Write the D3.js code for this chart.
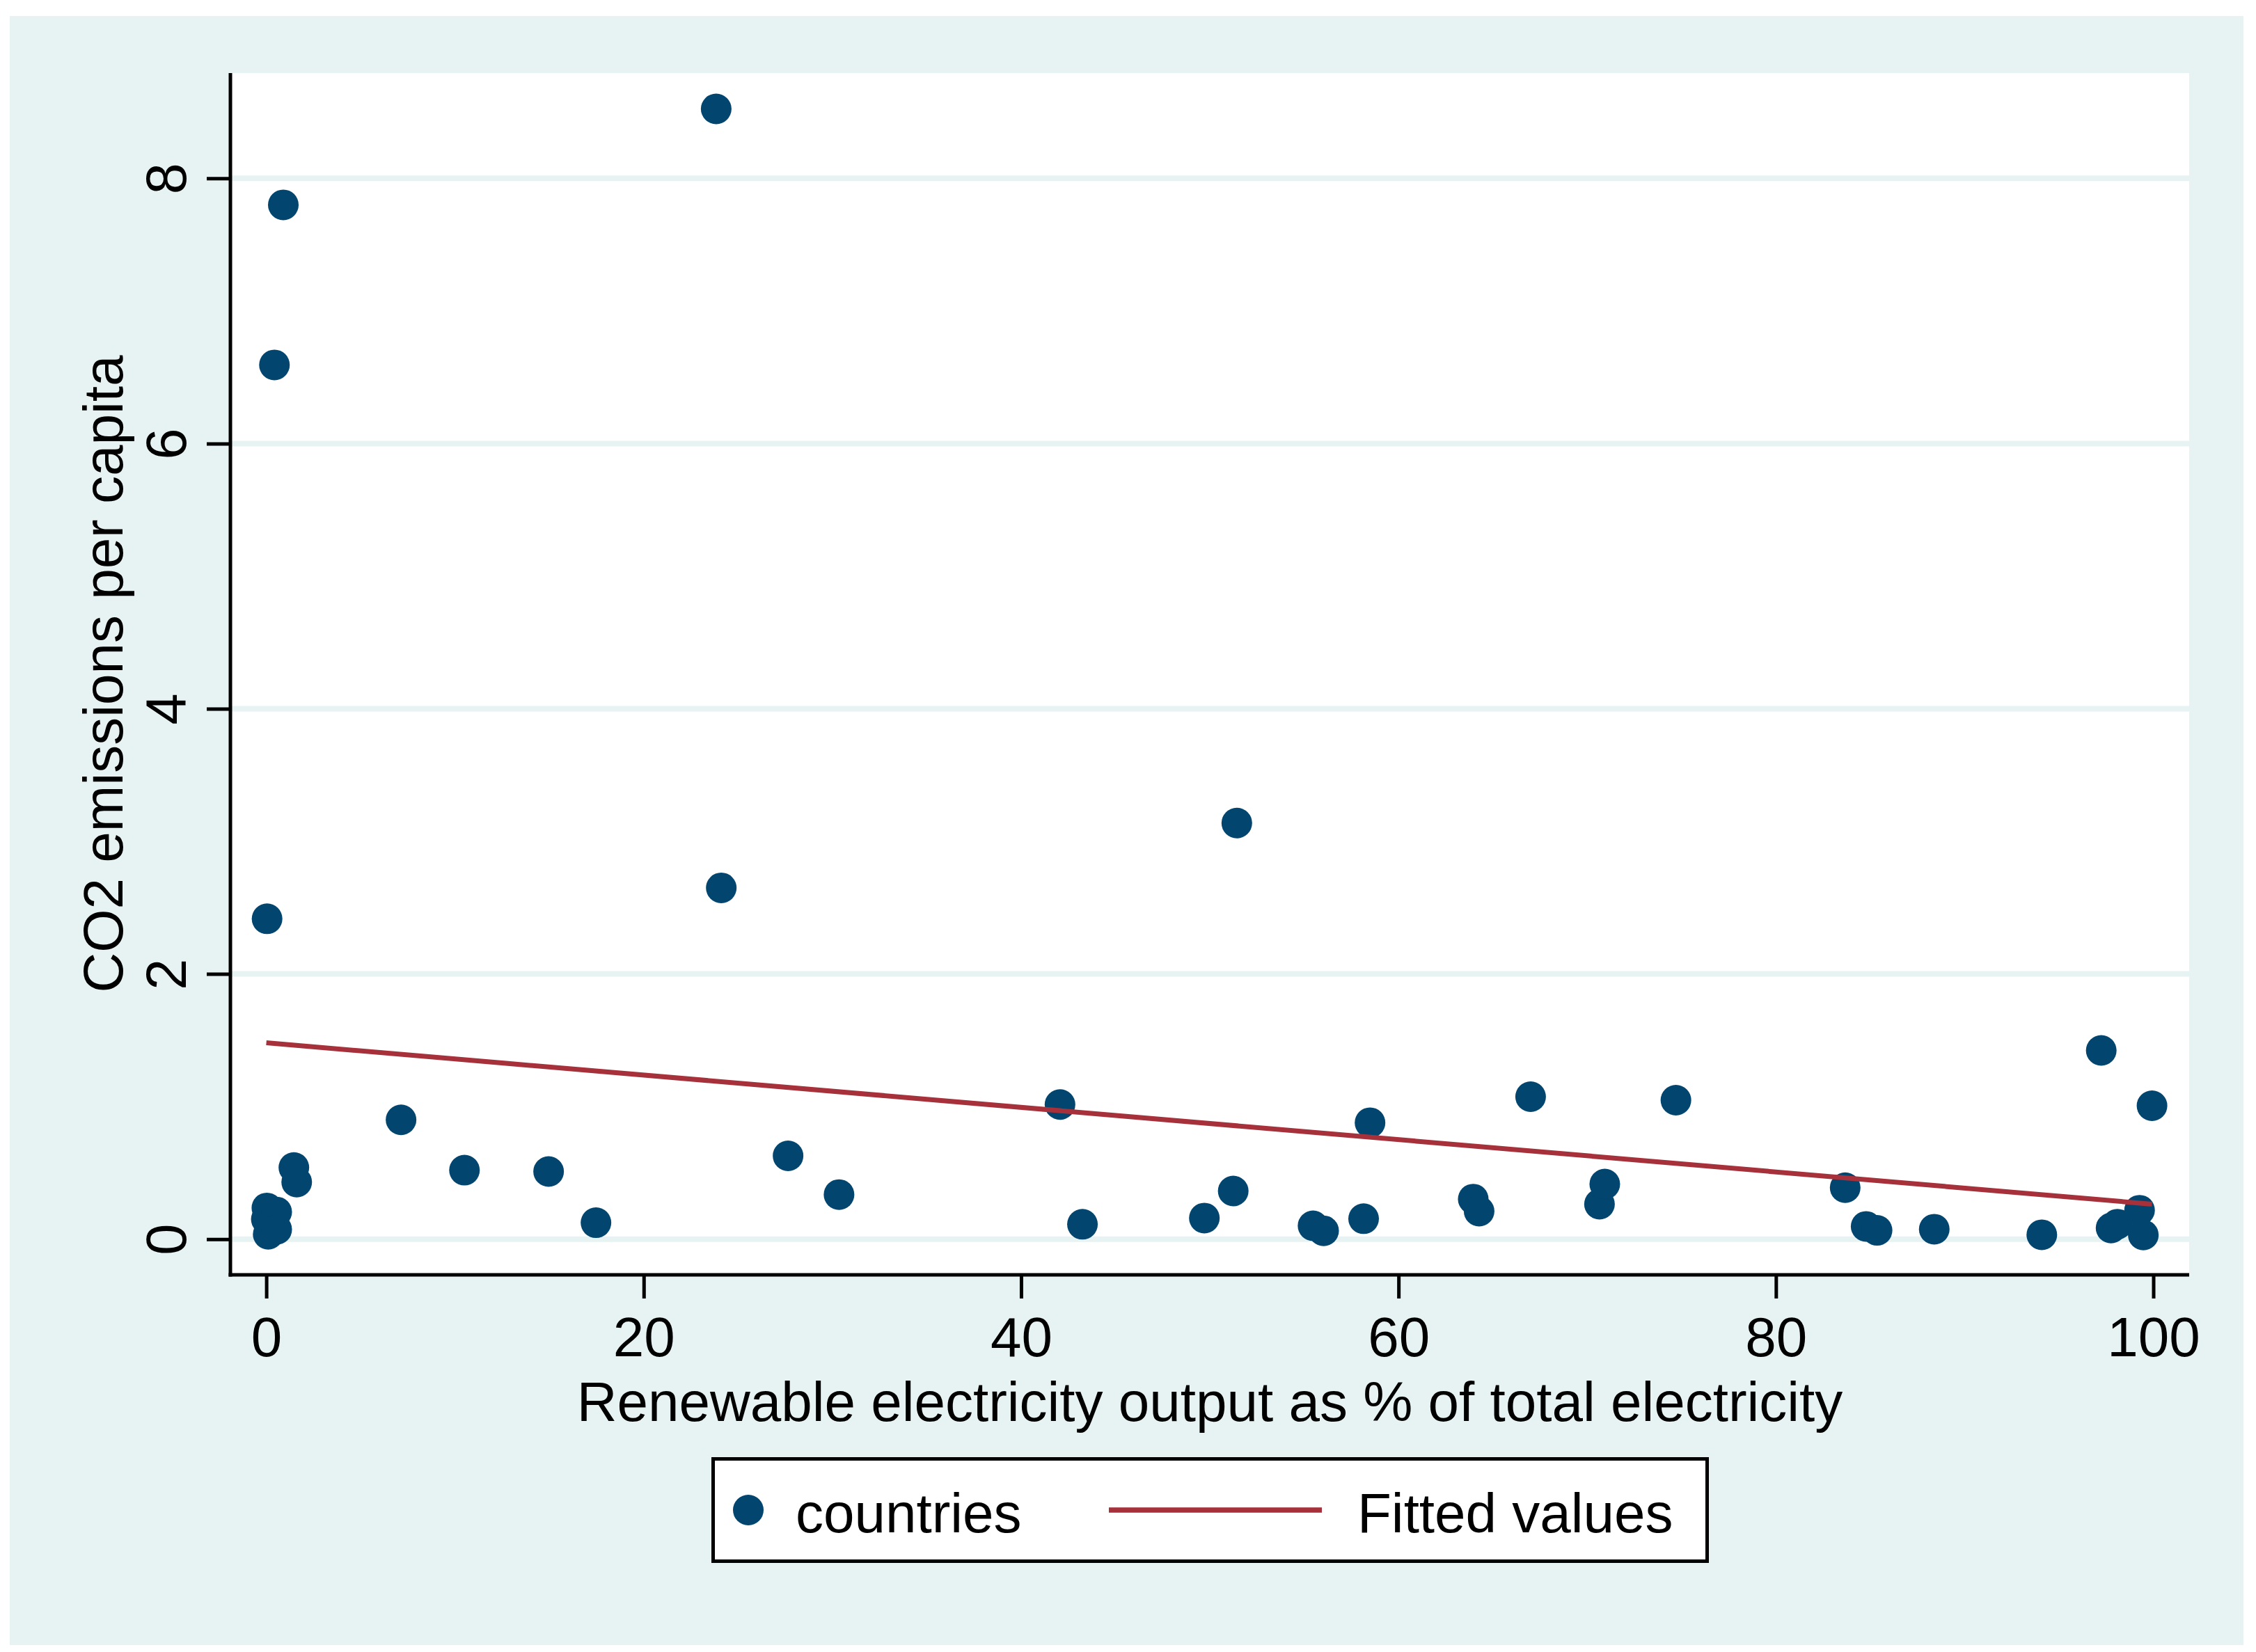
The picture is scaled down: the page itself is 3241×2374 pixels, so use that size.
<!DOCTYPE html>
<html>
<head>
<meta charset="utf-8">
<script src="https://cdn.jsdelivr.net/npm/d3@7"></script>
<style>
  body { margin: 0; background: #fff; }
  text { font-family: "Liberation Sans", Arial, sans-serif; fill: #000; }
</style>
</head>
<body>
<div id="vis"></div>
<script>
// data
const renewable = [0.03, 0.00, 0.10, 0.55, 0.55, 0.43, 0.90, 0.04, 1.46, 1.61,
    7.14, 10.50, 14.96, 17.47, 23.84, 24.11, 27.65, 30.35, 42.06, 43.25,
    49.71, 51.24, 51.43, 55.47, 56.03, 58.15, 58.49, 63.96, 64.27, 67.00,
    70.65, 70.93, 74.70, 83.67, 84.78, 85.36, 88.39, 94.09, 97.24, 97.76,
    98.10, 99.27, 99.47, 99.93];
const co2 = [0.235, 0.15, 0.037, 0.205, 0.073, 6.593, 7.80, 2.416, 0.54, 0.43,
    0.90, 0.52, 0.51, 0.124, 8.524, 2.649, 0.628, 0.336, 1.015, 0.112,
    0.159, 0.363, 3.138, 0.101, 0.063, 0.154, 0.878, 0.302, 0.211, 1.074,
    0.264, 0.415, 1.048, 0.388, 0.096, 0.066, 0.075, 0.033, 1.423, 0.084,
    0.113, 0.218, 0.031, 1.006];
const fitX = [0, 99.93];
const fitY = [1.481, 0.264];
const xTicks = [0, 20, 40, 60, 80, 100];
const yTicks = [0, 2, 4, 6, 8];

const points = renewable.map((d, i) => ({ x: d, y: co2[i] }));
const fitted = fitX.map((d, i) => ({ x: d, y: fitY[i] }));

// colours
const bgColor = '#e7f2f2';
const navy = '#02456f';
const maroon = '#a6313b';

// sizes
const W = 3241, H = 2374;
const margin = { top: 105, right: 96, bottom: 542, left: 331 };
const width = W - margin.left - margin.right;
const height = H - margin.top - margin.bottom;

const root = d3.select('#vis')
    .append('svg')
    .attr('width', W)
    .attr('height', H);

root.append('rect')
    .attr('width', W).attr('height', H)
    .attr('fill', '#fff');

root.append('rect')
    .attr('x', 14).attr('y', 23)
    .attr('width', 3223 - 14).attr('height', 2364 - 23)
    .attr('fill', bgColor);

const svg = root.append('g')
    .attr('transform', `translate(${margin.left},${margin.top})`);

svg.append('rect')
    .attr('width', width).attr('height', height)
    .attr('fill', '#fff');

// scales
const xScale = d3.scaleLinear()
    .domain([0, 100])
    .range([51.6, 2762.5]);

const yScale = d3.scaleLinear()
    .domain([0, 8])
    .range([1675.7, 151.3]);

// grid
svg.selectAll('.grid')
    .data(yTicks)
    .join('line')
    .attr('class', 'grid')
    .attr('x1', 2).attr('x2', width)
    .attr('y1', d => yScale(d)).attr('y2', d => yScale(d))
    .attr('stroke', bgColor)
    .attr('stroke-width', 8);

// points
svg.selectAll('.point')
    .data(points)
    .join('circle')
    .attr('class', 'point')
    .attr('cx', d => xScale(d.x))
    .attr('cy', d => yScale(d.y))
    .attr('r', 22)
    .attr('fill', navy);

// fitted line
const line = d3.line().x(d => xScale(d.x)).y(d => yScale(d.y));
svg.append('path')
    .datum(fitted)
    .attr('d', line)
    .attr('fill', 'none')
    .attr('stroke', maroon)
    .attr('stroke-width', 7);

// axes
const xAxis = d3.axisBottom(xScale).tickValues(xTicks).tickSize(34).tickPadding(30);
const gx = svg.append('g')
    .attr('transform', `translate(0,${height})`)
    .call(xAxis);
gx.select('.domain').remove();
gx.selectAll('line').attr('stroke', '#000').attr('stroke-width', 5);
gx.selectAll('text')
    .attr('font-size', 80)
    .attr('dy', 0)
    .attr('y', 117);

const yAxis = d3.axisLeft(yScale).tickValues(yTicks).tickSize(34);
const gy = svg.append('g').call(yAxis);
gy.select('.domain').remove();
gy.selectAll('line').attr('stroke', '#000').attr('stroke-width', 5);
gy.selectAll('text')
    .attr('font-size', 81)
    .attr('transform', 'rotate(-90)')
    .attr('x', 0)
    .attr('y', -64)
    .attr('dy', 0)
    .attr('text-anchor', 'middle');

// axis lines
svg.append('line')
    .attr('x1', 0).attr('x2', 0)
    .attr('y1', 0).attr('y2', height + 2.5)
    .attr('stroke', '#000').attr('stroke-width', 5);
svg.append('line')
    .attr('x1', -2.5).attr('x2', width)
    .attr('y1', height).attr('y2', height)
    .attr('stroke', '#000').attr('stroke-width', 5);

// titles
svg.append('text')
    .attr('x', width / 2)
    .attr('y', 2042 - margin.top)
    .attr('text-anchor', 'middle')
    .attr('font-size', 80)
    .text('Renewable electricity output as % of total electricity');

svg.append('text')
    .attr('transform', `translate(${176 - margin.left},${height / 2}) rotate(-90)`)
    .attr('text-anchor', 'middle')
    .attr('font-size', 80)
    .text('CO2 emissions per capita');

// legend
const legend = root.append('g');
legend.append('rect')
    .attr('x', 1024.5).attr('y', 2096.5)
    .attr('width', 1428).attr('height', 147)
    .attr('fill', '#fff')
    .attr('stroke', '#000')
    .attr('stroke-width', 5);
legend.append('circle')
    .attr('cx', 1075).attr('cy', 2170).attr('r', 22)
    .attr('fill', navy);
legend.append('text')
    .attr('x', 1143).attr('y', 2202)
    .attr('font-size', 80)
    .text('countries');
legend.append('line')
    .attr('x1', 1593).attr('x2', 1899)
    .attr('y1', 2170).attr('y2', 2170)
    .attr('stroke', maroon).attr('stroke-width', 7.5);
legend.append('text')
    .attr('x', 1950).attr('y', 2202)
    .attr('font-size', 80)
    .text('Fitted values');
</script>
</body>
</html>
